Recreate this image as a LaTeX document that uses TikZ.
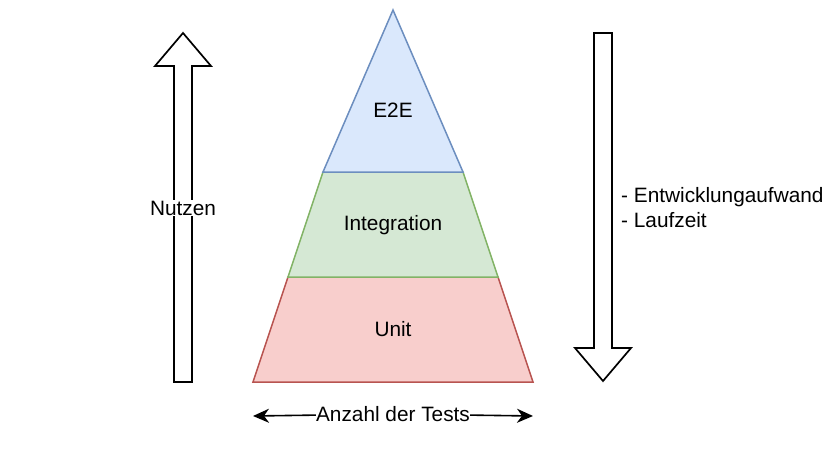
\documentclass[tikz,border=0pt]{standalone}
\usepackage{fontspec}
\setmainfont{Liberation Sans}
\usepackage{tikz}
\usetikzlibrary{calc}
\usetikzlibrary{arrows.meta}
\definecolor{eefill}{HTML}{DAE8FC}
\definecolor{eedraw}{HTML}{6C8EBF}
\definecolor{infill}{HTML}{D5E8D4}
\definecolor{indraw}{HTML}{82B366}
\definecolor{unfill}{HTML}{F8CECC}
\definecolor{undraw}{HTML}{B85450}
\tikzset{
  lbl/.style={font=\fontsize{20.8}{25}\selectfont, inner sep=1pt},
  blockarr/.style={draw=black, line width=1.7pt, fill=white, line join=miter},
}
\newcommand{\band}[7]{\draw[line width=1.5pt, draw=#6, fill=#7] ( #1 , #3 ) -- ( #2 , #3 ) -- ( #5 , #4 ) -- ( #1 + #2 - #5 , #4 ) -- cycle;}
\newcommand{\uparr}[1]{\draw[blockarr] (174,382) -- (174,66) -- (155,66) -- (183,33) -- (211,66) -- (192,66) -- (192,382) -- cycle; \node[lbl, fill=white] (#1) at (183,208) {Nutzen};}
\newcommand{\downarr}[1]{\draw[blockarr] (594,33) -- (594,348) -- (575,348) -- (603,381) -- (631,348) -- (612,348) -- (612,33) -- cycle; \coordinate (#1) at (603,33);}

\begin{document}
\begin{tikzpicture}[x=1pt, y=-1pt]
        \useasboundingbox (0,0) rectangle (827,455);
        % pyramid
        \band{253}{533}{382}{277}{498}{undraw}{unfill}
        \band{288}{498}{277}{172}{463}{indraw}{infill}
        \draw[line width=1.5pt, draw=eedraw, fill=eefill] (323,172) -- (463,172) -- (393,10) -- cycle;
        \node[lbl] (e2e) at (393,110) {E2E};
        \node[lbl] (integ) at (393,225) {Integration};
        \node[lbl] (unit) at (393,329) {Unit};
        % side arrows
        \uparr{nutzen}
        \downarr{aufwand}
        \node[lbl, anchor=west, align=left] (kosten) at (620,208) {- Entwicklungaufwand\\- Laufzeit};
        % bottom
        \coordinate (tl) at (253,416);
        \coordinate (tr) at (533,416);
        \node[lbl, fill=white, inner sep=0pt] (anzahl) at (393,414) {Anzahl der Tests};
        \draw[line width=1.6pt, -{Stealth[length=16pt, width=14pt, inset=5pt]}] (anzahl) -- (tr);
        \draw[line width=1.6pt, -{Stealth[length=16pt, width=14pt, inset=5pt]}] (anzahl) -- (tl);
    \end{tikzpicture}
\end{document}
